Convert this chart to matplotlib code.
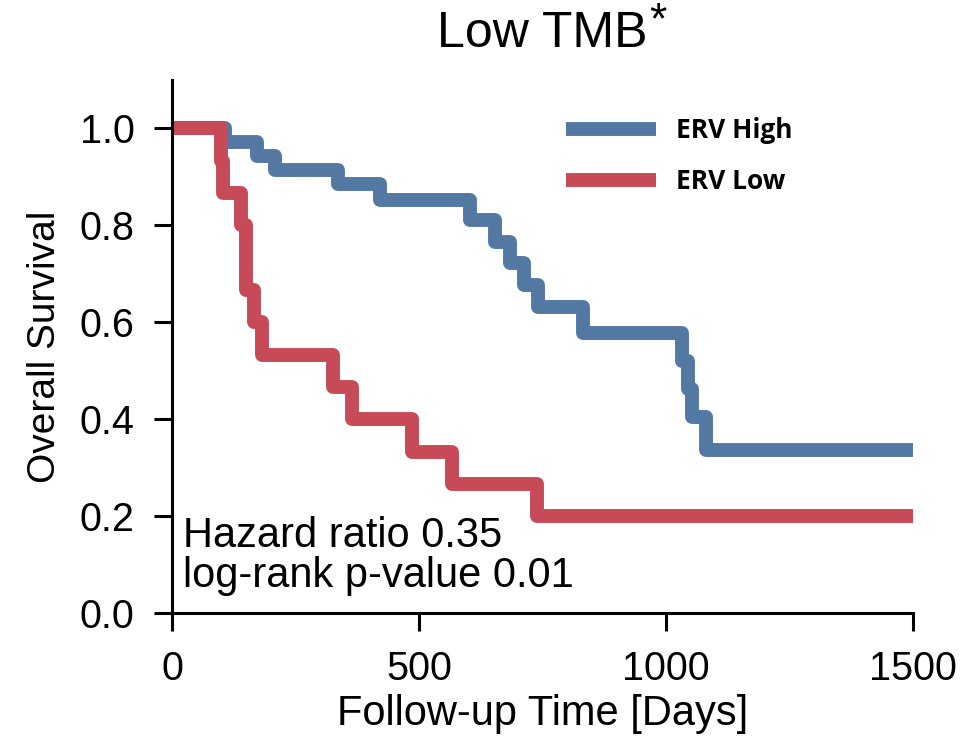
import matplotlib
matplotlib.use("Agg")
import matplotlib.pyplot as plt

plt.rcParams['font.family'] = ['Liberation Sans', 'DejaVu Sans']

# Kaplan-Meier steps
high_t = [0, 107, 172, 208, 336, 421, 603, 654, 684, 713, 741, 832, 1032, 1045, 1053, 1081, 1500]
high_s = [1.0, 0.971, 0.943, 0.914, 0.886, 0.852, 0.810, 0.765, 0.722, 0.676, 0.631, 0.577, 0.519, 0.462, 0.404, 0.337, 0.337]

low_t = [0, 99, 104, 139, 149, 165, 182, 326, 364, 486, 567, 739, 1500]
low_s = [1.0, 0.933, 0.867, 0.8, 0.667, 0.6, 0.533, 0.467, 0.4, 0.333, 0.267, 0.2, 0.2]

xticks = [0, 500, 1000, 1500]
yticks = [0.0, 0.2, 0.4, 0.6, 0.8, 1.0]

blue = "#5378a2"
red = "#c74a59"

fig = plt.figure(figsize=(9.63, 7.37), dpi=100)
ax = fig.add_axes([0.1786, 0.1683, 0.7695, 0.7232])

ax.step(high_t, high_s, where='post', color=blue, lw=10, label="ERV High", solid_joinstyle='round', solid_capstyle='butt')
ax.step(low_t, low_s, where='post', color=red, lw=10, label="ERV Low", solid_joinstyle='round', solid_capstyle='butt')

ax.set_xlim(0, 1500)
ax.set_ylim(0, 1.1)
ax.set_xticks(xticks)
ax.set_yticks(yticks)
ax.set_yticklabels(["%.1f" % v for v in yticks])
ax.spines['top'].set_visible(False)
ax.spines['right'].set_visible(False)
for s in ['left', 'bottom']:
    ax.spines[s].set_linewidth(2.2)
ax.tick_params(labelsize=28.5, width=2.2, length=13, pad=14)

ax.set_xlabel("Follow-up Time [Days]", fontsize=30, labelpad=4)
ax.set_ylabel("Overall Survival", fontsize=28, labelpad=12)
ax.set_title("Low TMB", fontsize=36, pad=24)
# raised asterisk next to the title
fig.text(0.683, 0.998, "*", fontsize=32, ha='center', va='top')

ax.text(22, 0.136, "Hazard ratio 0.35", fontsize=30, va='baseline')
ax.text(22, 0.054, "log-rank p-value 0.01", fontsize=30, va='baseline')

leg = ax.legend(loc='upper left', bbox_to_anchor=(0.532, 0.93), frameon=False,
                borderaxespad=0, borderpad=0, handlelength=3.4, handletextpad=0.75,
                labelspacing=0.9, prop={'family': 'Open Sans', 'weight': 'bold', 'size': 19})

fig.savefig("out.png", dpi=100)
